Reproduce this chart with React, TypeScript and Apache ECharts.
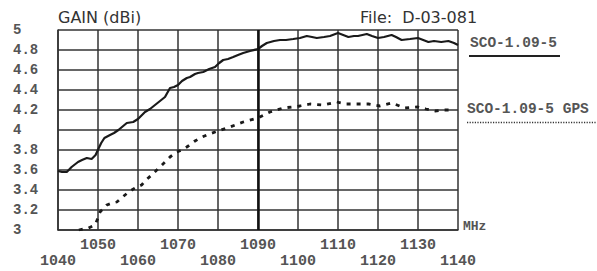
import React, { useEffect, useRef } from "react";
import * as echarts from "echarts";

const xTicksOdd = [1050, 1070, 1090, 1110, 1130];
const xTicksEven = [1040, 1060, 1080, 1100, 1120, 1140];

const sco = [
  [1040, 3.59], [1041, 3.58], [1042.2, 3.58], [1043.4, 3.63], [1045, 3.68], [1046, 3.7],
  [1047.2, 3.72], [1048.4, 3.71], [1049.4, 3.75], [1050.2, 3.82], [1050.8, 3.87], [1051.6, 3.92],
  [1053, 3.95], [1054, 3.97], [1055.1, 4.0], [1056, 4.03], [1057.2, 4.07], [1058.8, 4.08],
  [1060, 4.11], [1061, 4.15], [1061.75, 4.18], [1063, 4.21], [1064.25, 4.25], [1065.5, 4.29],
  [1066.75, 4.33], [1068, 4.42], [1069, 4.43], [1070, 4.45], [1071, 4.49], [1072.2, 4.52],
  [1073, 4.53], [1074.25, 4.56], [1075, 4.57], [1076.3, 4.58], [1077.8, 4.61], [1079.25, 4.63],
  [1080.3, 4.67], [1081.3, 4.7], [1082.5, 4.71], [1083.8, 4.73], [1085, 4.75], [1086.3, 4.77],
  [1088, 4.79], [1090, 4.81], [1091, 4.84], [1092.2, 4.87], [1094, 4.89], [1095.5, 4.9],
  [1097, 4.9], [1098.8, 4.91], [1100.5, 4.92], [1102.2, 4.94], [1103.5, 4.93], [1104.7, 4.92],
  [1106.5, 4.93], [1108, 4.94], [1110, 4.97], [1111.3, 4.95], [1112.6, 4.93], [1114, 4.94],
  [1115, 4.94], [1117.2, 4.96], [1118.5, 4.94], [1120, 4.92], [1121.5, 4.93], [1123.4, 4.95],
  [1124.5, 4.93], [1125.9, 4.9], [1128, 4.91], [1130, 4.92], [1131.3, 4.9], [1132.6, 4.88],
  [1134, 4.89], [1135.8, 4.88], [1137.6, 4.89], [1139, 4.87], [1140, 4.85],
];

const gps = [
  [1045.2, 3.0], [1046.5, 3.01], [1047.6, 3.02], [1049.25, 3.05], [1050, 3.12], [1050.5, 3.18],
  [1052.2, 3.25], [1053.5, 3.27], [1054.7, 3.28], [1056.75, 3.35], [1058, 3.39], [1059.25, 3.42],
  [1060.9, 3.45], [1062, 3.5], [1063.4, 3.55], [1064.7, 3.6], [1066, 3.65], [1068, 3.73],
  [1069.7, 3.78], [1071, 3.8], [1072.2, 3.83], [1074.25, 3.89], [1075.5, 3.92], [1077.2, 3.95],
  [1080, 3.99], [1083, 4.03], [1086.3, 4.08], [1090, 4.12], [1093, 4.18], [1096.3, 4.22],
  [1100.5, 4.24], [1103, 4.26], [1106.3, 4.25], [1109.7, 4.28], [1112, 4.26], [1114.25, 4.26],
  [1117.6, 4.26], [1120.5, 4.24], [1123.4, 4.27], [1126.75, 4.22], [1130, 4.23], [1132, 4.21],
  [1134.25, 4.19], [1136.5, 4.2], [1138.8, 4.2],
];

const seriesNames = ["SCO-1.09-5", "SCO-1.09-5 GPS"];
const titleText = "GAIN (dBi)";
const fileText = "File:  D-03-081";
const unitText = "MHz";

const mono = "'Liberation Mono', 'Courier New', monospace";
const sans = "'DejaVu Sans', 'Noto Sans', sans-serif";

export default function App() {
  const ref = useRef<HTMLDivElement>(null);
  useEffect(() => {
    if (!ref.current) return;
    const chart = echarts.init(ref.current, null, { renderer: "svg" });
    const baseX = {
      type: "value" as const,
      min: 1040,
      max: 1140,
      interval: 10,
      position: "bottom" as const,
    };
    chart.setOption({
      animation: false,
      backgroundColor: "#ffffff",
      grid: { left: 58, top: 30, width: 400, height: 200, containLabel: false },
      xAxis: [
        {
          ...baseX,
          axisLine: { show: true, onZero: false, lineStyle: { color: "#333", width: 1.5 } },
          axisTick: { show: false },
          splitLine: { show: true, lineStyle: { color: "#333", width: 1.5 } },
          axisLabel: {
            margin: 8,
            color: "#555",
            fontFamily: mono,
            fontWeight: "bold",
            fontSize: 15,
            formatter: (v: number) => (xTicksOdd.includes(v) ? String(v) : ""),
          },
        },
        {
          ...baseX,
          axisLine: { show: false },
          axisTick: { show: false },
          splitLine: { show: false },
          axisLabel: {
            margin: 24,
            color: "#555",
            fontFamily: mono,
            fontWeight: "bold",
            fontSize: 15,
            formatter: (v: number) => (xTicksEven.includes(v) ? String(v) : ""),
          },
        },
      ],
      yAxis: {
        type: "value",
        min: 3,
        max: 5,
        interval: 0.2,
        axisLine: { show: true, onZero: false, lineStyle: { color: "#333", width: 1.5 } },
        axisTick: { show: false },
        splitLine: { show: true, lineStyle: { color: "#333", width: 1.5 } },
        axisLabel: {
          align: "left",
          margin: 45,
          color: "#555",
          fontFamily: mono,
          fontWeight: "bold",
          fontSize: 14,
          formatter: (v: number) => String(Math.round(v * 10) / 10),
        },
      },
      series: [
        {
          name: seriesNames[0],
          type: "line",
          xAxisIndex: 0,
          data: sco,
          showSymbol: false,
          lineStyle: { color: "#1a1a1a", width: 2.2 },
          markLine: {
            silent: true,
            symbol: "none",
            label: { show: false },
            lineStyle: { color: "#111", width: 2.5, type: "solid" },
            data: [{ xAxis: 1090 }],
          },
        },
        {
          name: seriesNames[1],
          type: "line",
          xAxisIndex: 0,
          data: gps,
          showSymbol: false,
          lineStyle: { color: "#1a1a1a", width: 2.8, type: [4, 6] },
        },
      ],
      graphic: [
        {
          type: "text",
          left: 58,
          top: 9,
          style: { text: titleText, font: `16px ${sans}`, fill: "#333" },
        },
        {
          type: "text",
          left: 360,
          top: 9,
          style: { text: fileText, font: `16px ${sans}`, fill: "#333" },
        },
        {
          type: "text",
          left: 470,
          top: 35,
          style: { text: seriesNames[0], font: `bold 14.5px ${mono}`, fill: "#555" },
        },
        {
          type: "line",
          shape: { x1: 469, y1: 56, x2: 560, y2: 56 },
          style: { stroke: "#222", lineWidth: 2 },
        },
        {
          type: "text",
          left: 467,
          top: 101,
          style: { text: seriesNames[1], font: `bold 14.5px ${mono}`, fill: "#555" },
        },
        {
          type: "line",
          shape: { x1: 467, y1: 122.5, x2: 597, y2: 122.5 },
          style: { stroke: "#333", lineWidth: 1.5, lineDash: [1.2, 1.4] },
        },
        {
          type: "text",
          left: 463,
          top: 220,
          style: { text: unitText, font: `bold 13px ${mono}`, fill: "#555" },
        },
      ],
    });
    return () => chart.dispose();
  }, []);
  return (
    <div
      ref={ref}
      style={{ position: "absolute", left: 0, top: 0, width: 597, height: 271 }}
    />
  );
}
